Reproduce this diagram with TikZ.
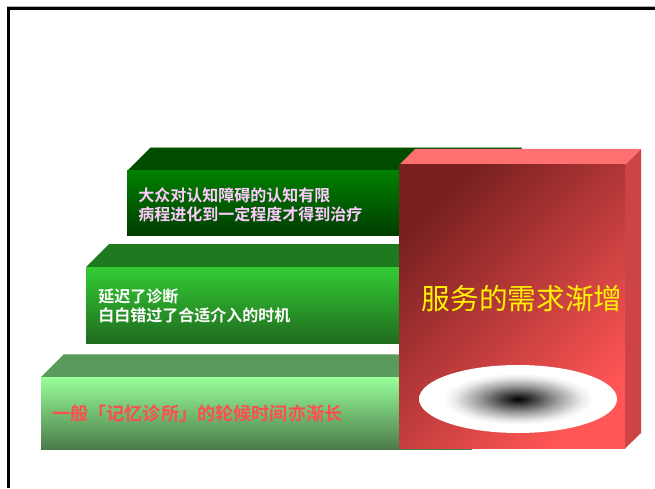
\documentclass[tikz,border=0pt]{standalone}
\usepackage{fontspec}
\newfontfamily\cjk{Noto Sans CJK SC}[BoldFont={Noto Sans CJK SC Bold}]
\usepackage{tikz}
\usetikzlibrary{positioning,calc}

\definecolor{StepOneTop}{HTML}{004D00}
\definecolor{StepOneHi}{HTML}{008000}
\definecolor{StepOneLo}{HTML}{003D00}
\definecolor{StepTwoTop}{HTML}{1F7A1F}
\definecolor{StepTwoHi}{HTML}{33CC33}
\definecolor{StepTwoLo}{HTML}{1F6B1F}
\definecolor{StepThreeTop}{HTML}{5A9A5A}
\definecolor{StepThreeHi}{HTML}{99FF99}
\definecolor{StepThreeLo}{HTML}{4A7A4A}
\definecolor{EdgeLight}{HTML}{8FBC8F}
\definecolor{BoxDark}{HTML}{782020}
\definecolor{BoxLight}{HTML}{FF5555}
\definecolor{BoxTop}{HTML}{FF7070}
\definecolor{BoxSide}{HTML}{CC4444}
\definecolor{PinkText}{HTML}{FFCCFF}
\definecolor{RedText}{HTML}{FF4D4D}

% dark spot fading to white at the rim
\pgfdeclareradialshading{spotshade}{\pgfpoint{0bp}{0bp}}{%
  rgb(0bp)=(0,0,0);rgb(4bp)=(0.25,0.25,0.25);rgb(10bp)=(0.62,0.62,0.62);%
  rgb(16bp)=(0.92,0.92,0.92);rgb(19bp)=(1,1,1);rgb(50bp)=(1,1,1)}

\begin{document}
\begin{tikzpicture}[x=0.75pt,y=-0.75pt,
  steptext/.style={anchor=west,inner sep=0pt,align=left,font=\cjk\bfseries\fontsize{12}{14.3}\selectfont}]

\useasboundingbox (0,0) rectangle (655,488);

% Frame
\draw[gray!60,line width=0.75pt] (7,7) -- (655,7);
\draw[line width=2.2pt] (8.5,488) -- (8.5,8.5) -- (655,8.5);

% Bottom step
\fill[StepThreeTop] (41,377) -- (64,354) -- (495,354) -- (472,377) -- cycle;
\draw[EdgeLight,line width=0.75pt] (64,354) -- (495,354);
\shade[top color=StepThreeHi,middle color=StepThreeHi!85!StepThreeLo,bottom color=StepThreeLo] (41,377) rectangle (472,449.5);
\node[steptext,text=RedText,font=\cjk\bfseries\fontsize{13.6}{16}\selectfont] (text3) at (52,414) {一般「记忆诊所」的轮候时间亦渐长};

% Middle step
\fill[StepTwoTop] (86,267) -- (109,244) -- (503,244) -- (480,267) -- cycle;
\shade[top color=StepTwoHi,bottom color=StepTwoLo] (86,267) rectangle (480,343);
\node[steptext,text=white] (text2) at (98,306) {延迟了诊断\\白白错过了合适介入的时机};

% Top step
\fill[StepOneTop] (127,171) -- (150,148) -- (522,148) -- (499,171) -- cycle;
\draw[EdgeLight,line width=0.75pt] (150,148) -- (522,148);
\shade[top color=StepOneHi,bottom color=StepOneLo] (127,171) rectangle (499,235.5);
\node[steptext,text=PinkText] (text1) at (138,204.5) {大众对认知障碍的认知有限\\病程进化到一定程度才得到治疗};

% Red box
\fill[BoxTop] (399,165) -- (415,149) -- (641,149) -- (625,165) -- cycle;
\fill[BoxSide] (625,165) -- (641,149) -- (641,433) -- (625,448.5) -- cycle;
\shade[top color=BoxDark,bottom color=BoxLight,shading angle=45] (399,165) rectangle (625,448.5);
\shade[shading=spotshade] (518,399) ellipse (99 and 34);
\node[inner sep=0pt,text=yellow,font=\cjk\fontsize{21.5}{24}\selectfont] (demand) at (522,299) {服务的需求渐增};

\end{tikzpicture}
\end{document}
